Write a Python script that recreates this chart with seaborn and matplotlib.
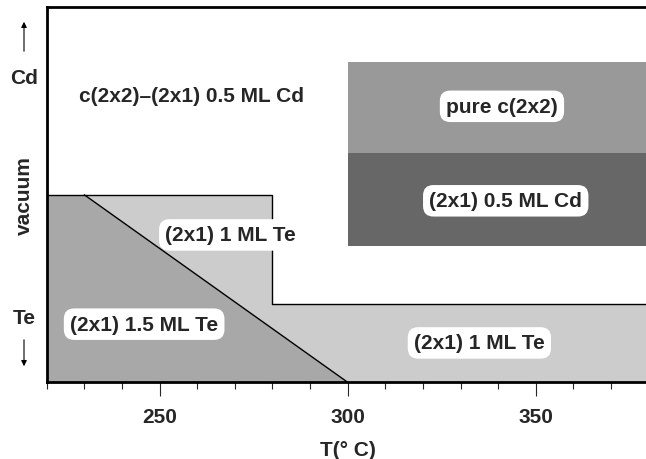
import numpy as np
import matplotlib
matplotlib.use('Agg')
import matplotlib.pyplot as plt
import seaborn as sns

# Phase boundaries (T in deg C, chemical potential on a 0..1 scale, Te bottom -> Cd top)
step_T = [220, 280, 280, 380]          # outline of the (2x1) 1 ML Te region
step_mu = [0.5, 0.5, 0.21, 0.21]
diag_T = [230, 300]                    # 1.5 ML / 1 ML Te boundary
diag_mu = [0.5, 0.0]
te15_T = [220, 230, 300]               # (2x1) 1.5 ML Te region
te15_mu = [0.5, 0.5, 0.0]
cd_T = [300, 380]                      # right-hand Cd boxes
cd_mu_low = [0.364, 0.364]
cd_mu_mid = [0.611, 0.611]
cd_mu_top = [0.855, 0.855]

labels = ['(2x1) 1 ML Te', '(2x1) 1.5 ML Te', '(2x1) 1 ML Te', 'pure c(2x2)', '(2x1) 0.5 ML Cd']
label_T = [268.9, 245.9, 335.0, 341.0, 342.0]
label_mu = [0.393, 0.155, 0.105, 0.736, 0.484]

sns.set_style('white')
plt.rcParams['font.family'] = ['Liberation Sans', 'DejaVu Sans']
plt.rcParams['font.weight'] = 'bold'

fig = plt.figure(figsize=(6.46, 4.6), dpi=100)
ax = fig.add_axes([46.7 / 646, 76.7 / 460, 602 / 646, 375 / 460])

# regions
ax.fill_between(step_T, 0, step_mu, color='#cccccc', lw=0)
ax.fill_between(te15_T, 0, te15_mu, color='#a8a8a8', lw=0)
ax.fill_between(cd_T, cd_mu_low, cd_mu_mid, color='#676767', lw=0)
ax.fill_between(cd_T, cd_mu_mid, cd_mu_top, color='#999999', lw=0)

# boundary lines
sns.lineplot(x=step_T, y=step_mu, sort=False, estimator=None, color='black', lw=1, ax=ax)
sns.lineplot(x=diag_T, y=diag_mu, sort=False, estimator=None, color='black', lw=1, ax=ax)

fs = 15
box = dict(boxstyle='round,pad=0.3,rounding_size=0.5', fc='white', ec='none')
for t, m, s in zip(label_T, label_mu, labels):
    ax.text(t, m, s, ha='center', va='center', fontsize=fs, fontweight='bold', bbox=box)
ax.text(258.6, 0.766, 'c(2x2)\u2013(2x1) 0.5 ML Cd', ha='center', va='center',
        fontsize=fs, fontweight='bold')

ax.set_xlim(220, 380)
ax.set_ylim(0, 1)
ax.set_xticks([250, 300, 350])
ax.set_xticks(np.arange(220, 381, 10), minor=True)
ax.set_yticks([])
ax.tick_params(axis='x', which='major', bottom=True, direction='out', length=10, width=0.8,
               pad=8, labelsize=fs)
ax.tick_params(axis='x', which='minor', bottom=True, direction='out', length=5, width=0.8)
for lab in ax.get_xticklabels():
    lab.set_fontweight('bold')
for sp in ax.spines.values():
    sp.set_linewidth(2)
    sp.set_color('black')
ax.set_xlabel('T(\u00b0 C)', fontsize=fs, fontweight='bold', labelpad=10)

# left-hand qualitative axis
fig.text(24 / 646, 1 - 78 / 460, 'Cd', ha='center', va='center', fontsize=fs, fontweight='bold')
fig.text(24 / 646, 1 - 196 / 460, 'vacuum', ha='center', va='center', rotation=90,
         fontsize=fs, fontweight='bold')
fig.text(24 / 646, 1 - 318 / 460, 'Te', ha='center', va='center', fontsize=fs, fontweight='bold')
arrow = dict(arrowstyle='-|>', color='black', lw=0.8, mutation_scale=8)
fig.add_artist(matplotlib.patches.FancyArrowPatch((24 / 646, 1 - 55 / 460), (24 / 646, 1 - 20 / 460),
                                                  transform=fig.transFigure, **arrow))
fig.add_artist(matplotlib.patches.FancyArrowPatch((24 / 646, 1 - 338 / 460), (24 / 646, 1 - 370 / 460),
                                                  transform=fig.transFigure, **arrow))

fig.savefig('out.png', dpi=100)
